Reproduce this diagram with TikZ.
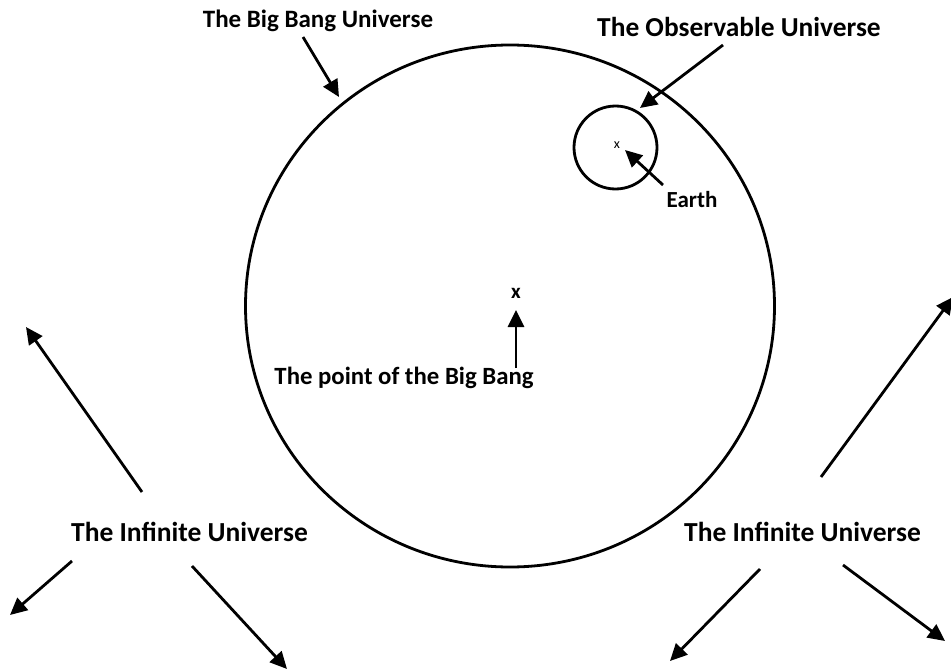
\documentclass[tikz,border=0pt]{standalone}
\usepackage{fontspec}
\setmainfont{Carlito}
\usetikzlibrary{arrows.meta}
\tikzset{
  arr/.style={line width=2.8pt,-{Triangle[length=17pt,width=16pt]}},
  lab/.style={font=\bfseries\fontsize{#1}{#1}\selectfont, inner sep=0pt},
  ring/.style={line width=2.8pt}
}
\begin{document}
\begin{tikzpicture}[x=1pt,y=-1pt]
\useasboundingbox (0,0) rectangle (951,669);
% circles
\draw[ring] (510,306) ellipse [x radius=264.5, y radius=261];
\draw[ring] (615.5,147.5) circle [radius=41.5];
% labels
\node[lab=25] (bbu) at (318,21) {The Big Bang Universe};
\node[lab=27.4] (obs) at (739,27) {The Observable Universe};
\node[lab=23] (earth) at (692,200) {Earth};
\node[inner sep=0pt, font=\fontsize{14}{14}\selectfont] (ex) at (617,145) {x};
\node[inner sep=0pt, font=\bfseries\fontsize{21}{21}\selectfont] (bx) at (516,293) {x};
\node[lab=24.8] (pt) at (404,378) {The point of the Big Bang};
\node[lab=27.5] (infL) at (189.5,532) {The Infinite Universe};
\node[lab=27.5] (infR) at (802.5,532) {The Infinite Universe};
% arrow coordinates
\coordinate (bbuT) at (303,37);  \coordinate (bbuH) at (339,97);
\coordinate (obsT) at (723,45);  \coordinate (obsH) at (640,108);
\coordinate (eT) at (663,185);   \coordinate (eH) at (625,150);
\coordinate (pT) at (516,368);   \coordinate (pH) at (516,310);
\coordinate (l1T) at (142,492);  \coordinate (l1H) at (26,327);
\coordinate (l2T) at (72,561);   \coordinate (l2H) at (10,615);
\coordinate (l3T) at (192,566);  \coordinate (l3H) at (287,669);
\coordinate (r1T) at (821,477);  \coordinate (r1H) at (953,297);
\coordinate (r2T) at (760,569);  \coordinate (r2H) at (670,661);
\coordinate (r3T) at (843,565);  \coordinate (r3H) at (945,641);
\foreach \a in {bbu,obs,e,p,l1,l2,l3,r1,r2,r3}
  \draw[arr] (\a T) -- (\a H);
\end{tikzpicture}
\end{document}
